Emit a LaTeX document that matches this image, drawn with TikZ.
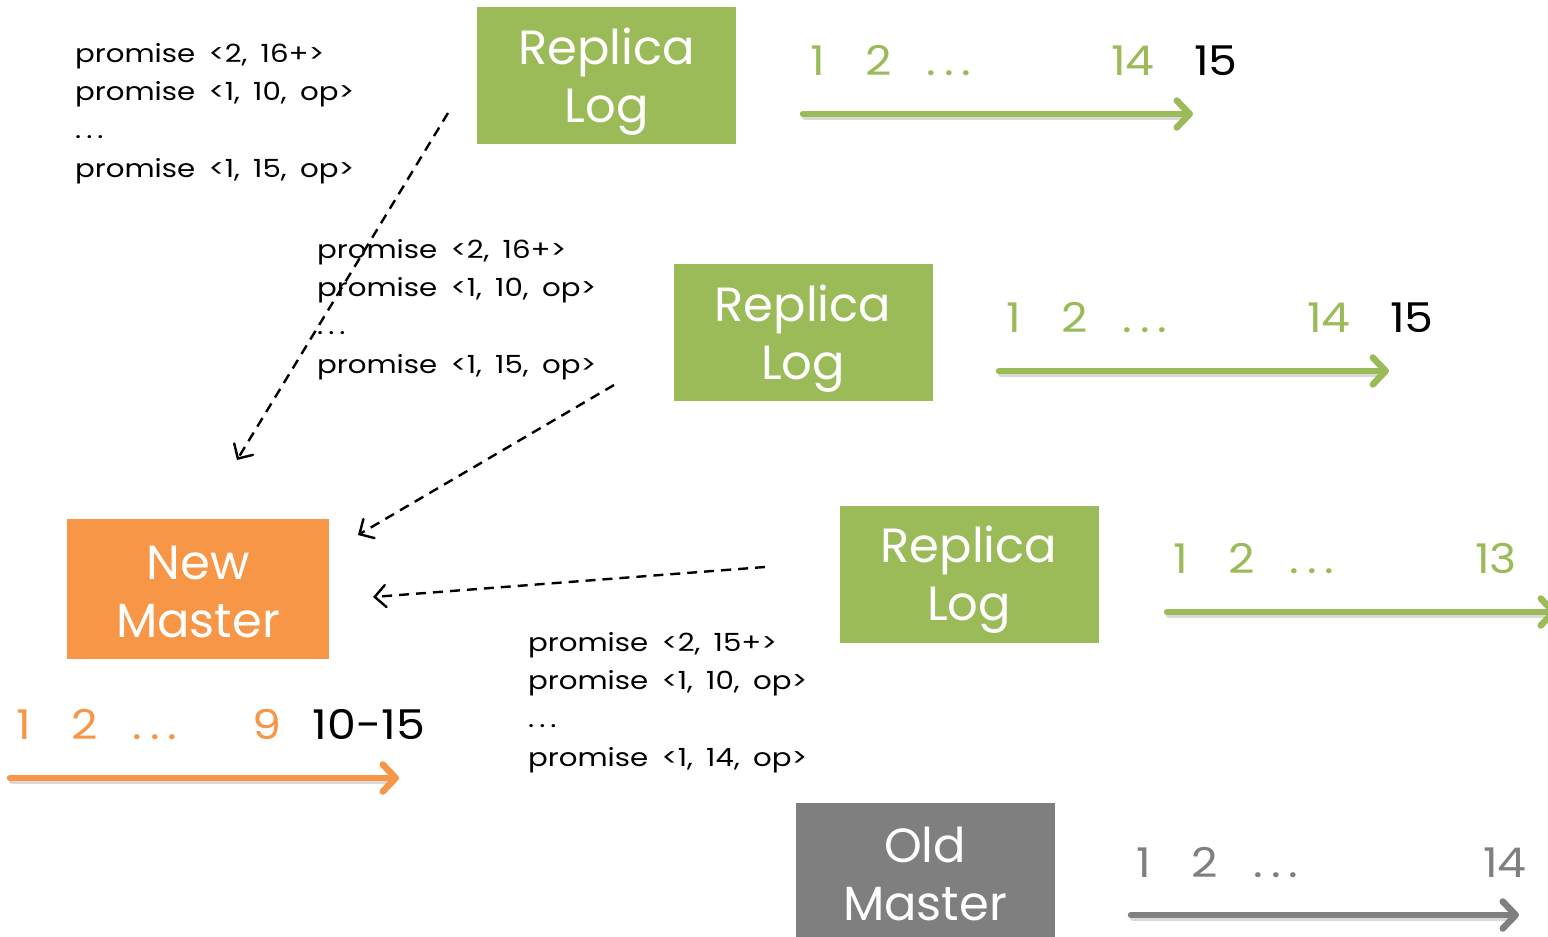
\documentclass[tikz,border=0pt]{standalone}
\usepackage{fontspec}
\setmainfont{Poppins}
\newfontfamily\msgfont[FakeStretch=1.17,WordSpace=1.7]{Poppins}
\newfontfamily\idxfont[FakeStretch=1.12]{Poppins}
\usetikzlibrary{arrows.meta}
\definecolor{logGreen}{HTML}{9BBB59}
\definecolor{masterOrange}{HTML}{F79646}
\definecolor{oldGray}{HTML}{7F7F7F}
% widely spaced ellipsis
\newcommand{\wdots}[1]{.\hspace{#1}.\hspace{#1}.}
\begin{document}
\begin{tikzpicture}[x=1pt,y=-1pt,
  box/.style={draw=none, fill=#1, minimum width=259pt, minimum height=137pt, inner sep=0pt},
  boxtext/.style={text=white, font=\fontsize{48}{58}\selectfont, align=center, inner sep=0pt},
  idx/.style={text=#1, font=\idxfont\fontsize{41}{41}\selectfont, anchor=base, inner sep=0pt},
  msg/.style={font=\msgfont\fontsize{25}{38.3}\selectfont, align=left, anchor=north west, inner sep=0pt},
  timeline/.style={line width=6.5pt, draw=#1, line cap=round,
    -{Straight Barb[length=13pt,width=27pt,line cap=round,line join=round]}},
  tlshadow/.style={line width=6.5pt, draw=black, opacity=0.15, line cap=round},
  push/.style={line width=2.4pt, dash pattern=on 10pt off 7pt,
    -{Straight Barb[length=11pt,width=22pt,line cap=round]}}
]
\useasboundingbox (0,0) rectangle (1548,937);

% ---------- boxes ----------
\node[box=logGreen] (r1) at (606.5,75.5) {};
\node[box=logGreen] (r2) at (803,332.5) {};
\node[box=logGreen] (r3) at (969,574) {};
\node[box=masterOrange, minimum width=262pt, minimum height=140pt] (nm) at (198,589) {};
\node[box=oldGray, minimum height=140pt] (om) at (925,873) {};

% box captions (yshift is in canvas points, positive = up)
\node[boxtext] (r1t) at ([yshift=-6]r1.center) {Replica\\Log};
\node[boxtext] (r2t) at ([yshift=-6]r2.center) {Replica\\Log};
\node[boxtext] (r3t) at ([yshift=-6]r3.center) {Replica\\Log};
\node[boxtext] (nmt) at ([yshift=-3]nm.center) {New\\Master};
\node[boxtext] (omt) at ([yshift=-1]om.center) {Old\\Master};

% ---------- log timelines ----------
% replica 1
\node[idx=logGreen] (a1) at (818,75) {1};
\node[idx=logGreen] (a2) at (879,75) {2};
\node[idx=logGreen] (a3) at (949,75) {\wdots{8pt}};
\node[idx=logGreen] (a4) at (1133,75) {14};
\node[idx=black] (a5) at (1216,75) {15};
\coordinate (a-s) at (803,114);
\coordinate (a-e) at (1193,114);
% replica 2
\node[idx=logGreen] (b1) at (1014,332) {1};
\node[idx=logGreen] (b2) at (1075,332) {2};
\node[idx=logGreen] (b3) at (1145,332) {\wdots{8pt}};
\node[idx=logGreen] (b4) at (1329,332) {14};
\node[idx=black] (b5) at (1412,332) {15};
\coordinate (b-s) at (999,371);
\coordinate (b-e) at (1389,371);
% replica 3
\node[idx=logGreen] (c1) at (1181,573) {1};
\node[idx=logGreen] (c2) at (1242,573) {2};
\node[idx=logGreen] (c3) at (1312,573) {\wdots{8pt}};
\node[idx=logGreen] (c4) at (1496,573) {13};
\coordinate (c-s) at (1167,612);
\coordinate (c-e) at (1557,612);
% new master
\node[idx=masterOrange] (n1) at (24,739) {1};
\node[idx=masterOrange] (n2) at (85,739) {2};
\node[idx=masterOrange] (n3) at (155,739) {\wdots{8pt}};
\node[idx=masterOrange] (n4) at (267,739) {9};
\node[idx=black] (n5) at (369,739) {10-15};
\coordinate (n-s) at (10,778);
\coordinate (n-e) at (399,778);
% old master
\node[idx=oldGray] (o1) at (1144,877) {1};
\node[idx=oldGray] (o2) at (1205,877) {2};
\node[idx=oldGray] (o3) at (1276,877) {\wdots{8pt}};
\node[idx=oldGray] (o4) at (1505,877) {14};
\coordinate (o-s) at (1131,915);
\coordinate (o-e) at (1519,915);

\foreach \t/\c in {a/logGreen, b/logGreen, c/logGreen, n/masterOrange, o/oldGray}{
  \draw[tlshadow] ([shift={(2,3)}]\t-s) -- ([shift={(-6,3)}]\t-e);
  \draw[timeline=\c] (\t-s) -- (\t-e);
}

% ---------- promise messages ----------
\node[msg] (m1) at (75,43) {promise <2, 16+>\\promise <1, 10, op>\\\wdots{5pt}\\promise <1, 15, op>};
\node[msg] (m2) at (317,239) {promise <2, 16+>\\promise <1, 10, op>\\\wdots{5pt}\\promise <1, 15, op>};
\node[msg] (m3) at (528,632) {promise <2, 15+>\\promise <1, 10, op>\\\wdots{5pt}\\promise <1, 14, op>};

% ---------- promise traffic towards the new master ----------
\coordinate (p1s) at (448,113);
\coordinate (p1e) at (237,460);
\coordinate (p2s) at (614,385);
\coordinate (p2e) at (358,535);
\coordinate (p3s) at (765,567);
\coordinate (p3e) at (373,597);
\draw[push] (p1s) -- (p1e);
\draw[push] (p2s) -- (p2e);
\draw[push] (p3s) -- (p3e);
\end{tikzpicture}
\end{document}
